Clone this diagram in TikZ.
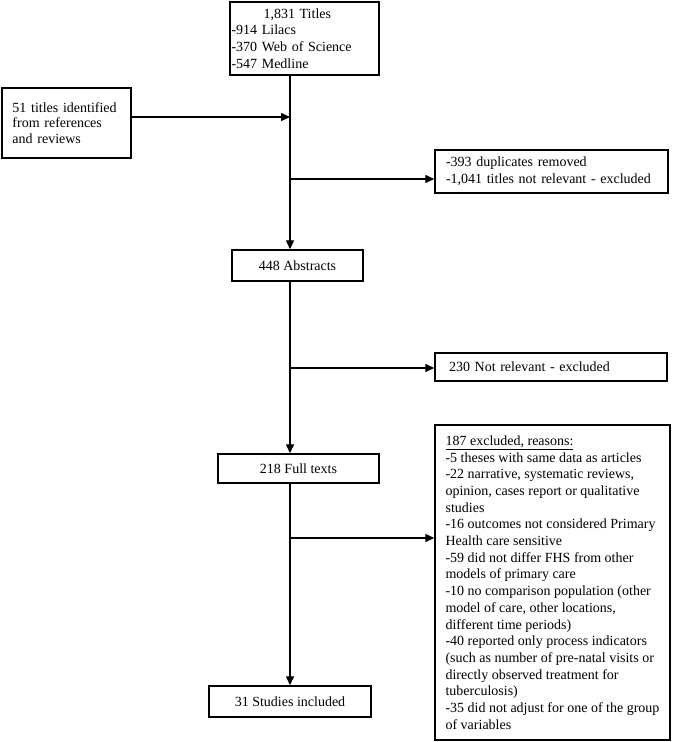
\documentclass[tikz,border=0pt]{standalone}
\usepackage{fontspec}
\setmainfont{Liberation Serif}
\usetikzlibrary{arrows.meta}

\begin{document}
\begin{tikzpicture}[x=1pt, y=-1pt,
  box/.style={draw=black, line width=1.4pt, inner sep=0pt, font=\fontsize{14}{16.7}\selectfont},
  arr/.style={line width=1.3pt, -{Triangle[length=9pt, width=8pt]}}]
\useasboundingbox (0,0) rectangle (675,742);
\node[box, minimum width=149pt, minimum height=73pt, text width=146pt, align=left]
  (titles) at (304.5,38.5) {\hspace*{32pt}1,831 Titles\\-914 Lilacs\\-370 Web of Science\\-547 Medline};
\node[box, minimum width=129pt, minimum height=70pt, text width=108pt, align=left,
  font=\fontsize{14}{15.5}\selectfont]
  (refs) at (66.5,123) {51 titles identified\\from references\\and reviews};
\node[box, minimum width=233pt, minimum height=43pt, text width=211pt, align=left]
  (dupes) at (551.5,171.5) {-393 duplicates removed\\-1,041 titles not relevant - excluded};
\node[box, minimum width=131pt, minimum height=31pt, align=center]
  (abstracts) at (297.5,265.5) {448 Abstracts};
\node[box, minimum width=232pt, minimum height=28pt, text width=204pt, align=left]
  (notrel) at (551,367) {230 Not relevant - excluded};
\node[box, minimum width=161pt, minimum height=29pt, align=center]
  (fulltexts) at (298.5,468.5) {218 Full texts};
\node[box, minimum width=235pt, minimum height=315pt, align=left]
  (excluded) at (552.5,582.5) {\underline{187 excluded, reasons:}\\
  -5 theses with same data as articles\\
  -22 narrative, systematic reviews,\\
  opinion, cases report or qualitative\\
  studies\\
  -16 outcomes not considered Primary\\
  Health care sensitive\\
  -59 did not differ FHS from other\\
  models of primary care\\
  -10 no comparison population (other\\
  model of care, other locations,\\
  different time periods)\\
  -40 reported only process indicators\\
  (such as number of pre-natal visits or\\
  directly observed treatment for\\
  tuberculosis)\\
  -35 did not adjust for one of the group\\
  of variables};
\node[box, minimum width=162pt, minimum height=31pt, align=center]
  (included) at (290,701.5) {31 Studies included};

\coordinate (spine) at (290,0);
\coordinate (j1) at (290,117);
\coordinate (j2) at (290,179);
\coordinate (j3) at (290,368);
\coordinate (j4) at (290,538);
\draw[arr] (titles.south -| spine) -- (abstracts.north -| spine);
\draw[arr] (abstracts.south -| spine) -- (fulltexts.north -| spine);
\draw[arr] (fulltexts.south -| spine) -- (included.north -| spine);
\draw[arr] (refs.east |- j1) -- (j1);
\draw[arr] (j2) -- (j2 -| dupes.west);
\draw[arr] (j3) -- (j3 -| notrel.west);
\draw[arr] (j4) -- (j4 -| excluded.west);
\end{tikzpicture}
\end{document}
